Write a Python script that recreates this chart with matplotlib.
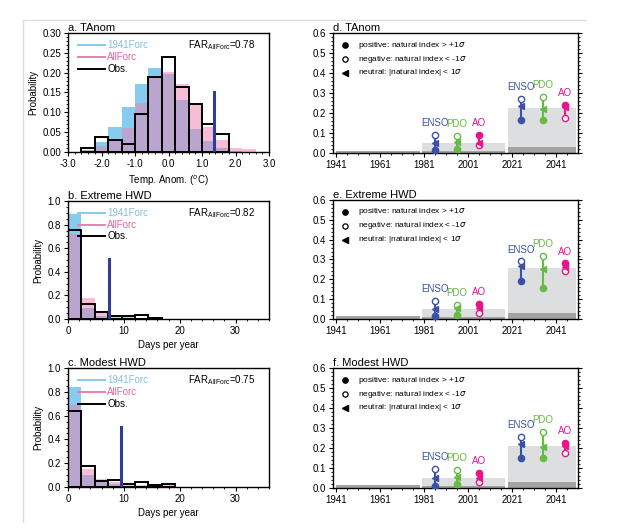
import matplotlib
matplotlib.use("Agg")
import matplotlib.pyplot as plt
from matplotlib.lines import Line2D
from matplotlib.ticker import MultipleLocator, FixedLocator
import numpy as np

plt.rcParams['font.family'] = ['Liberation Sans', 'DejaVu Sans']
plt.rcParams['mathtext.fontset'] = 'custom'
plt.rcParams['mathtext.rm'] = 'Liberation Sans'

# ---- left column: histograms ----
edges_a = [-2.6, -2.2, -1.8, -1.4, -1.0, -0.6, -0.2, 0.2, 0.6, 1.0, 1.4, 1.8, 2.2, 2.6]
forc1941_a = [0.006, 0.024, 0.064, 0.113, 0.171, 0.211, 0.197, 0.131, 0.058, 0.028, 0.009, 0.002, 0.0]
allforc_a = [0.004, 0.016, 0.030, 0.060, 0.123, 0.190, 0.202, 0.171, 0.120, 0.064, 0.030, 0.011, 0.008]
obs_a = [0.011, 0.037, 0.029, 0.019, 0.096, 0.189, 0.240, 0.165, 0.121, 0.071, 0.045]
event_a = (1.35, 0.152)
far_a = 0.78

edges_hwd = [0, 2.4, 4.8, 7.2, 9.6, 12.0, 14.4, 16.8, 19.2, 21.6, 24.0]
forc1941_b = [0.89, 0.09, 0.028, 0.012, 0.005, 0.003, 0.0, 0.0, 0.0, 0.0]
allforc_b = [0.72, 0.175, 0.048, 0.025, 0.015, 0.010, 0.005, 0.003, 0.002, 0.001]
obs_b = [0.754, 0.124, 0.056, 0.028, 0.022, 0.031, 0.011]
event_b = (7.35, 0.505)
far_b = 0.82

forc1941_c = [0.837, 0.099, 0.042, 0.028, 0.010, 0.006, 0.003, 0.010, 0.0, 0.0]
allforc_c = [0.69, 0.15, 0.07, 0.042, 0.020, 0.015, 0.005, 0.015, 0.002, 0.001]
obs_c = [0.642, 0.175, 0.051, 0.056, 0.028, 0.042, 0.014, 0.022]
event_c = (9.45, 0.505)
far_c = 0.75

# ---- right column: probabilities by period ----
period_start = [1941, 1980, 2019]
period_end = [1979, 2018, 2050]
indices = ['ENSO', 'PDO', 'AO']
idx_x = [[1986, 1996, 2006], [2025, 2035, 2045]]   # periods 2 and 3

light_d = [0.012, 0.052, 0.225]
dark_d = [0.012, 0.012, 0.028]
pos_d = [[0.015, 0.022, 0.088], [0.165, 0.165, 0.240]]
neg_d = [[0.090, 0.085, 0.042], [0.270, 0.280, 0.175]]
neu_d = [[0.050, 0.055, 0.048], [0.235, 0.222, 0.228]]

light_e = [0.013, 0.050, 0.255]
dark_e = [0.013, 0.010, 0.032]
pos_e = [[0.015, 0.022, 0.078], [0.190, 0.155, 0.280]]
neg_e = [[0.090, 0.070, 0.030], [0.290, 0.320, 0.240]]
neu_e = [[0.050, 0.057, 0.055], [0.265, 0.250, 0.260]]

light_f = [0.015, 0.052, 0.210]
dark_f = [0.015, 0.012, 0.030]
pos_f = [[0.012, 0.018, 0.075], [0.150, 0.150, 0.225]]
neg_f = [[0.095, 0.090, 0.030], [0.255, 0.280, 0.175]]
neu_f = [[0.048, 0.055, 0.050], [0.220, 0.205, 0.210]]

BLUE = '#86CCEE'
PINK = '#EC7FAF'
EVT = '#2E3C9A'
IDX_COL = ['#3B50A8', '#66BB44', '#E8158A']

fig = plt.figure(figsize=(6.21, 5.30), dpi=100)
fig.add_artist(Line2D([23/621, 585/621], [1-20/530, 1-20/530], color='#DDDDDD', lw=1))
fig.add_artist(Line2D([23/621, 23/621], [1-20/530, 1-522/530], color='#DDDDDD', lw=1))


def hist_panel(rect, title, edges, f41, allf, obs, event, far, xlim, ylim, xmaj, xmin, ymaj, ymin, xlabel, fmt):
    ax = fig.add_axes(rect)
    e = np.array(edges)
    w = np.diff(e)
    ax.bar(e[:len(f41)], f41, width=w[:len(f41)], align='edge', color=BLUE, lw=0)
    ax.bar(e[:len(allf)], allf, width=w[:len(allf)], align='edge', color=PINK, alpha=0.5, lw=0)
    ax.bar(e[:len(obs)], obs, width=w[:len(obs)], align='edge', fill=False, edgecolor='black', lw=1.4)
    ax.plot([event[0], event[0]], [0, event[1]], color=EVT, lw=2.2)
    ax.set_xlim(*xlim)
    ax.set_ylim(*ylim)
    ax.xaxis.set_major_locator(MultipleLocator(xmaj))
    ax.xaxis.set_minor_locator(MultipleLocator(xmin))
    ax.yaxis.set_major_locator(MultipleLocator(ymaj))
    ax.yaxis.set_minor_locator(MultipleLocator(ymin))
    ax.xaxis.set_major_formatter(plt.FormatStrFormatter(fmt))
    ax.yaxis.set_major_formatter(plt.FormatStrFormatter('%.1f' if ymaj >= 0.1 else '%.2f'))
    ax.tick_params(labelsize=7, length=3, width=0.8, pad=2)
    ax.tick_params(which='minor', length=1.5, width=0.6)
    for s in ax.spines.values():
        s.set_linewidth(1.0)
    ax.set_title(title, loc='left', fontsize=8, pad=1.5)
    ax.set_ylabel('Probability', fontsize=7, labelpad=3)
    ax.set_xlabel(xlabel, fontsize=7, labelpad=3)
    rows = [0.9, 0.8, 0.7]
    for y, lab, c, tc in zip(rows, ['1941Forc', 'AllForc', 'Obs.'],
                             [BLUE, PINK, 'black'], ['#7DC0E8', '#E8659E', 'black']):
        ax.plot([0.05, 0.185], [y, y], transform=ax.transAxes, color=c, lw=1.4)
        ax.text(0.195, y, lab, transform=ax.transAxes, color=tc, fontsize=7, va='center')
    ax.text(0.595, 0.9, r'FAR$_{\mathrm{AllForc}}$=%.2f' % far, transform=ax.transAxes,
            fontsize=7, va='center')
    return ax


hist_panel([68/621, 1-152/530, 201/621, 119/530], 'a. TAnom', edges_a, forc1941_a, allforc_a, obs_a,
           event_a, far_a, (-3, 3), (0, 0.3), 1.0, 0.2, 0.05, 0.01, 'Temp. Anom. ($^{o}$C)', '%.1f')
hist_panel([68/621, 1-319/530, 201/621, 118/530], 'b. Extreme HWD', edges_hwd, forc1941_b, allforc_b, obs_b,
           event_b, far_b, (0, 36), (0, 1.0), 10, 2, 0.2, 0.05, 'Days per year', '%d')
hist_panel([68/621, 1-487/530, 201/621, 119/530], 'c. Modest HWD', edges_hwd, forc1941_c, allforc_c, obs_c,
           event_c, far_c, (0, 36), (0, 1.0), 10, 2, 0.2, 0.05, 'Days per year', '%d')


def prob_panel(rect, title, light, dark, pos, neg, neu):
    ax = fig.add_axes(rect)
    starts = np.array(period_start)
    widths = np.array(period_end) - starts
    ax.bar(starts, light, width=widths, align='edge', color='#DDDEDF', lw=0)
    ax.bar(starts, dark, width=widths, align='edge', color='#A3A3A3', lw=0)
    for p in range(2):
        for i in range(3):
            x = idx_x[p][i]
            c = IDX_COL[i]
            vals = [pos[p][i], neg[p][i], neu[p][i]]
            ax.plot([x, x], [min(vals), max(vals)], color=c, lw=1.5, zorder=3)
            ax.plot(x, pos[p][i], 'o', color=c, ms=4.5, zorder=4)
            ax.plot(x, neg[p][i], 'o', mfc='white', mec=c, mew=1.0, ms=4.5, zorder=4)
            ax.plot(x, neu[p][i], '<', color=c, ms=4.5, zorder=5)
            ax.text(x, max(vals) + 0.06, indices[i], color=c, fontsize=7, ha='center', va='center')
    ax.set_xlim(1939.6, 2051)
    ax.set_ylim(0, 0.6)
    ax.xaxis.set_major_locator(FixedLocator([1941, 1961, 1981, 2001, 2021, 2041]))
    ax.xaxis.set_minor_locator(FixedLocator(np.arange(1941, 2051, 5)))
    ax.yaxis.set_major_locator(MultipleLocator(0.1))
    ax.yaxis.set_minor_locator(MultipleLocator(0.02))
    ax.yaxis.set_major_formatter(plt.FormatStrFormatter('%.1f'))
    ax.tick_params(labelsize=7, length=3, width=0.8, pad=2)
    ax.tick_params(which='minor', length=1.5, width=0.6)
    ax.tick_params(axis='y', which='both', right=True)
    for s in ax.spines.values():
        s.set_linewidth(1.0)
    ax.set_title(title, loc='left', fontsize=8, pad=1.5)
    rows = [0.9, 0.783, 0.667]
    for y, m, lab in zip(rows, ['o', 'o', '<'],
                         ['positive: natural index > +1$\\sigma$',
                          'negative: natural index < -1$\\sigma$',
                          'neutral: |natural index| < 1$\\sigma$']):
        if lab.startswith('negative'):
            ax.plot(0.049, y, m, transform=ax.transAxes, mfc='white', mec='black', mew=0.9, ms=3.8)
        else:
            ax.plot(0.049, y, m, transform=ax.transAxes, color='black', ms=3.8)
        ax.text(0.1, y, lab, transform=ax.transAxes, fontsize=6, va='center')
    return ax


prob_panel([333/621, 1-153/530, 245/621, 120/530], 'd. TAnom', light_d, dark_d, pos_d, neg_d, neu_d)
prob_panel([333/621, 1-319/530, 245/621, 119/530], 'e. Extreme HWD', light_e, dark_e, pos_e, neg_e, neu_e)
prob_panel([333/621, 1-488/530, 245/621, 120/530], 'f. Modest HWD', light_f, dark_f, pos_f, neg_f, neu_f)

fig.savefig('out.png', dpi=100)
